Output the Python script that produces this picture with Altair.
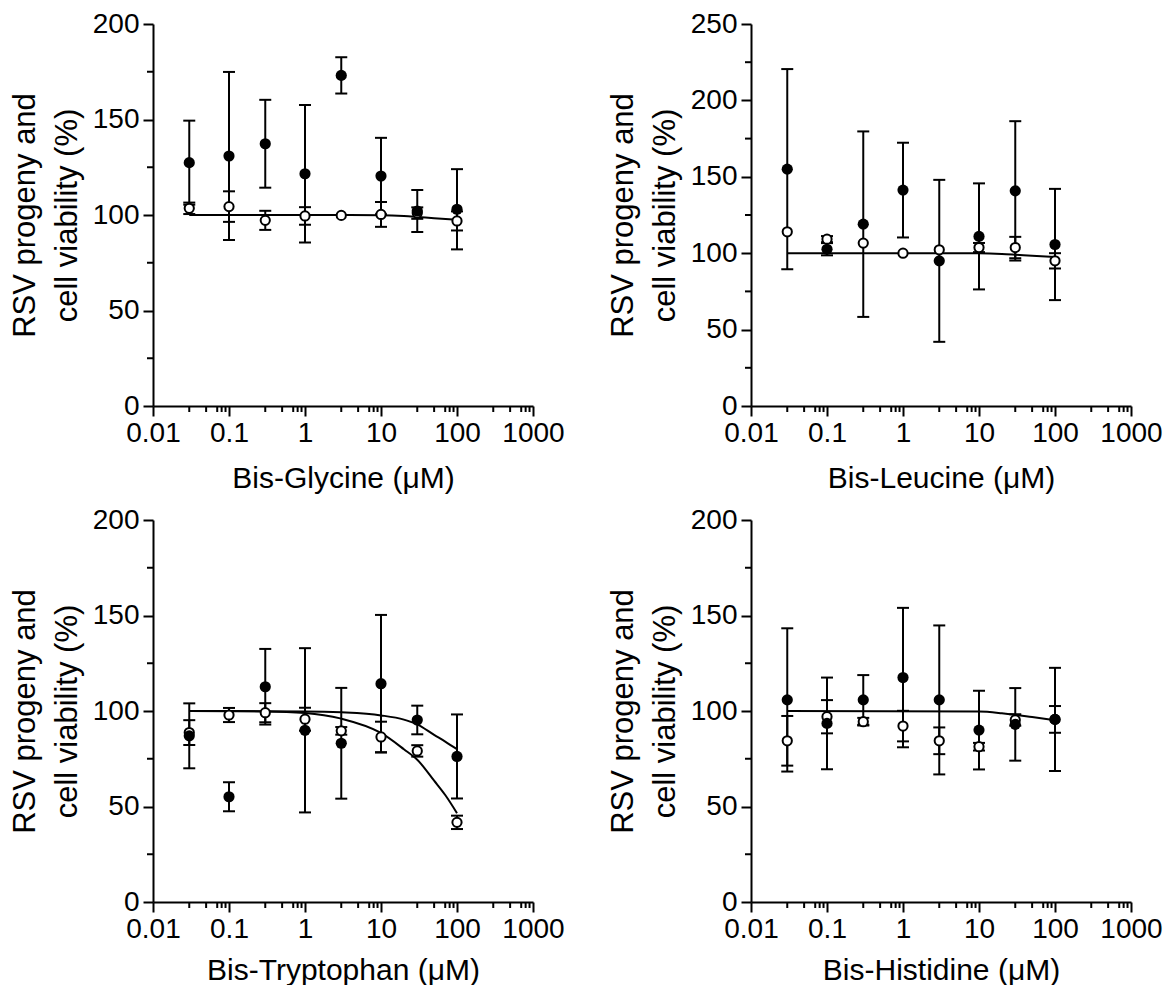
import altair as alt
import pandas as pd

# ---------------- data ----------------
conc = [0.03, 0.1, 0.3, 1, 3, 10, 30, 100]

# Bis-Glycine
gly_filled = [127.4, 130.9, 137.3, 121.6, 173.1, 120.4, 102.1, 103.0]
gly_filled_err = [22, 44, 23, 36, 9.5, 20, 11, 21]
gly_open = [103.5, 104.4, 97.2, 99.5, 99.8, 100.3, 101.0, 96.9]
gly_open_err = [3, 8, 5, 4.6, 0, 6.5, 3, 5]
gly_curve_x = [0.03, 1, 10, 20, 30, 50, 100]
gly_curve_y = [100, 100, 99.9, 99.5, 99.0, 98.3, 97.5]

# Bis-Leucine
leu_filled = [155, 102.6, 119, 141.3, 95, 111, 140.8, 105.7]
leu_filled_err = [65.5, 4, 60.7, 31, 53, 34.7, 45.6, 36.4]
leu_open = [114, 109.2, 106.6, 100, 102.2, 103.7, 103.7, 95]
leu_open_err = [0, 2, 0, 0, 0, 3, 7, 5]
leu_curve_x = [0.03, 10, 20, 30, 50, 100]
leu_curve_y = [100, 99.9, 99.5, 99.0, 98.3, 97.5]

# Bis-Tryptophan
trp_filled = [87, 55.1, 112.7, 89.9, 83.1, 114.3, 95.3, 76.2]
trp_filled_err = [17, 7.6, 19.8, 43, 29, 36, 7.5, 22]
trp_open = [88.7, 97.9, 99.1, 95.7, 89.6, 86.4, 79.1, 41.7]
trp_open_err = [6.5, 3.7, 5, 6, 2, 8, 3, 3.5]
trp_curve1_x = [0.03, 1, 3, 10, 20, 30, 50, 70, 100]
trp_curve1_y = [100, 99.8, 99.3, 97.7, 95.5, 93, 87.5, 84, 80]
trp_curve2_x = [0.03, 0.3, 1, 3, 10, 20, 30, 50, 70, 100]
trp_curve2_y = [100, 99.8, 99, 96, 88.5, 80, 74.5, 63.5, 56, 46.5]

# Bis-Histidine
his_filled = [105.8, 93.5, 105.8, 117.5, 105.8, 90, 93, 95.6]
his_filled_err = [37.5, 24, 13, 36.5, 39, 20.6, 19, 27]
his_open = [84.4, 97, 94.4, 92.1, 84.4, 81.3, 95.3, 95.6]
his_open_err = [13, 8.7, 2, 8, 7, 2, 3, 7]
his_curve_x = [0.03, 10, 20, 30, 50, 100]
his_curve_y = [100, 99.7, 98.8, 98, 96.8, 95.2]

x_ticks = [0.01, 0.1, 1, 10, 100, 1000]
x_minor = [d * m for d in [0.01, 0.1, 1, 10, 100] for m in (3, 5, 7, 8, 9)]

FONT = "Liberation Sans"
W, H = 380, 382
TICK_FS = 28
XTITLE_FS = 30
YTITLE_FS = 31


def panel(title, ymax, fm, fe, om, oe, curves, xtitle_pad):
    pts = pd.DataFrame(
        {"conc": conc * 2, "y": fm + om, "series": ["filled"] * 8 + ["open"] * 8}
    )
    bars = pd.DataFrame(
        {
            "conc": conc * 2,
            "y": [m - e for m, e in zip(fm + om, fe + oe)],
            "y2": [m + e for m, e in zip(fm + om, fe + oe)],
            "err": fe + oe,
        }
    )
    bars = bars[bars["err"] > 0]
    caps = pd.DataFrame(
        {"conc": list(bars["conc"]) * 2, "y": list(bars["y"]) + list(bars["y2"])}
    )
    crows = []
    for i, (cx, cy) in enumerate(curves):
        for a, b in zip(cx, cy):
            crows.append({"conc": a, "y": b, "curve": f"c{i}"})
    cdf = pd.DataFrame(crows)
    yminor = pd.DataFrame({"y": list(range(25, ymax, 50))})
    xminor = pd.DataFrame({"conc": x_minor})

    xenc = alt.X(
        "conc:Q",
        scale=alt.Scale(type="log", domain=[0.01, 1000], nice=False),
        axis=alt.Axis(
            values=x_ticks,
            format="~g",
            title=title,
            tickSize=10,
            tickWidth=2,
            tickColor="black",
            domainColor="black",
            domainWidth=2,
            grid=False,
            labelFont=FONT,
            labelFontSize=TICK_FS,
            labelColor="black",
            labelPadding=3,
            labelFlush=False,
            labelOverlap=False,
            titleFont=FONT,
            titleFontSize=XTITLE_FS,
            titleFontWeight="normal",
            titleColor="black",
            titlePadding=xtitle_pad,
        ),
    )
    yenc = alt.Y(
        "y:Q",
        scale=alt.Scale(domain=[0, ymax], nice=False),
        axis=alt.Axis(
            values=list(range(0, ymax + 1, 50)),
            format="d",
            title=["RSV progeny and", "cell viability (%)"],
            tickSize=10,
            tickWidth=2,
            tickColor="black",
            domainColor="black",
            domainWidth=2,
            grid=False,
            labelFont=FONT,
            labelFontSize=TICK_FS,
            labelColor="black",
            labelPadding=4,
            labelFlush=False,
            labelOverlap=False,
            titleFont=FONT,
            titleFontSize=YTITLE_FS,
            titleFontWeight="normal",
            titleColor="black",
            titleLineHeight=42,
            titlePadding=9,
        ),
    )

    line = (
        alt.Chart(cdf)
        .mark_line(color="black", strokeWidth=2, interpolate="monotone")
        .encode(x=xenc, y=yenc, detail="curve:N")
    )
    rules = (
        alt.Chart(bars)
        .mark_rule(color="black", strokeWidth=2)
        .encode(x=xenc, y=yenc, y2="y2:Q")
    )
    capm = (
        alt.Chart(caps)
        .mark_tick(color="black", orient="horizontal", size=12, thickness=2, opacity=1)
        .encode(x=xenc, y=yenc)
    )
    openp = (
        alt.Chart(pts)
        .transform_filter("datum.series == 'open'")
        .mark_circle(fill="white", stroke="black", strokeWidth=2, size=85, opacity=1)
        .encode(x=xenc, y=yenc)
    )
    filledp = (
        alt.Chart(pts)
        .transform_filter("datum.series == 'filled'")
        .mark_circle(color="black", size=125, opacity=1)
        .encode(x=xenc, y=yenc)
    )
    xm = (
        alt.Chart(xminor)
        .mark_rule(color="black", strokeWidth=2)
        .encode(x=xenc, y=alt.value(H), y2=alt.value(H + 6))
    )
    ym = (
        alt.Chart(yminor)
        .mark_rule(color="black", strokeWidth=2)
        .encode(y=yenc, x=alt.value(-6), x2=alt.value(0))
    )
    return alt.layer(line, rules, capm, openp, filledp, xm, ym).properties(
        width=W, height=H, view=alt.ViewBackground(stroke=None, strokeWidth=0)
    )


p1 = panel("Bis-Glycine (μM)", 200, gly_filled, gly_filled_err, gly_open, gly_open_err,
           [(gly_curve_x, gly_curve_y)], 16)
p2 = panel("Bis-Leucine (μM)", 250, leu_filled, leu_filled_err, leu_open, leu_open_err,
           [(leu_curve_x, leu_curve_y)], 16)
p3 = panel("Bis-Tryptophan (μM)", 200, trp_filled, trp_filled_err, trp_open, trp_open_err,
           [(trp_curve1_x, trp_curve1_y), (trp_curve2_x, trp_curve2_y)], 12)
p4 = panel("Bis-Histidine (μM)", 200, his_filled, his_filled_err, his_open, his_open_err,
           [(his_curve_x, his_curve_y)], 12)

chart = (
    alt.vconcat(
        alt.hconcat(p1, p2, spacing=42),
        alt.hconcat(p3, p4, spacing=42),
        spacing=13,
    )
    .properties(padding={"left": 1, "top": 2, "right": 0, "bottom": 0})
    .configure_view(stroke=None, strokeWidth=0)
    .configure(background="white")
)

chart.save("out.html", embed_options={"renderer": "svg", "actions": False})
